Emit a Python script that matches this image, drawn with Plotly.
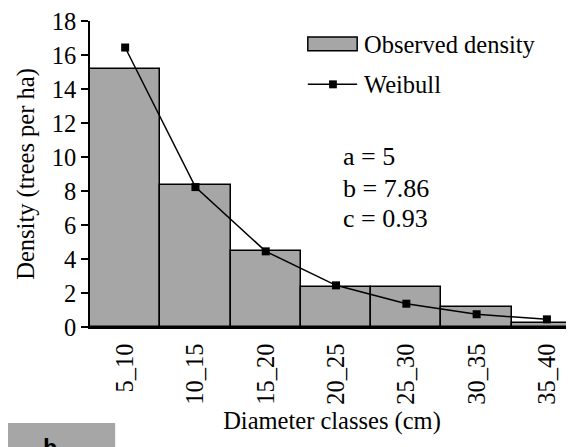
import plotly.graph_objects as go

categories = ["5_10", "10_15", "15_20", "20_25", "25_30", "30_35", "35_40"]
observed = [15.2, 8.33, 4.5, 2.35, 2.35, 1.2, 0.22]
weibull = [16.44, 8.23, 4.45, 2.45, 1.37, 0.75, 0.45]
params = ["a = 5", "b = 7.86", "c = 0.93"]
y_ticks = [0, 2, 4, 6, 8, 10, 12, 14, 16, 18]

FONT = "Liberation Serif"
FS = 24.5
GRAY = "#a6a6a6"

fig = go.Figure()
fig.add_trace(go.Bar(x=categories, y=observed, name="Observed density",
                     marker=dict(color=GRAY, line=dict(color="black", width=1.5)),
                     showlegend=False))
fig.add_trace(go.Scatter(x=categories, y=weibull, name="Weibull", mode="lines+markers",
                         line=dict(color="black", width=1.5),
                         marker=dict(symbol="square", size=8, color="black"),
                         showlegend=False))

# custom legend
fig.add_shape(type="rect", xref="paper", yref="paper", x0=0.450, x1=0.552, y0=0.903, y1=0.948,
              fillcolor=GRAY, line=dict(color="black", width=1.5))
fig.add_shape(type="line", xref="paper", yref="paper", x0=0.450, x1=0.552, y0=0.793, y1=0.793,
              line=dict(color="black", width=1.5))
fig.add_shape(type="rect", xref="paper", yref="paper", x0=0.494, x1=0.510, y0=0.780, y1=0.806,
              fillcolor="black", line=dict(color="black", width=0))
fig.add_annotation(text="Observed density", xref="paper", yref="paper", x=0.562, y=0.922,
                   xanchor="left", yanchor="middle", showarrow=False,
                   font=dict(family=FONT, size=FS, color="black"))
fig.add_annotation(text="Weibull", xref="paper", yref="paper", x=0.562, y=0.793,
                   xanchor="left", yanchor="middle", showarrow=False,
                   font=dict(family=FONT, size=FS, color="black"))

for txt, yp in zip(params, [0.557, 0.453, 0.356]):
    fig.add_annotation(text=txt, xref="paper", yref="paper", x=0.519, y=yp,
                       xanchor="left", yanchor="middle", showarrow=False,
                       font=dict(family=FONT, size=26, color="black"))

# panel label box (partially cut off, as in the reference)
fig.add_shape(type="rect", xref="paper", yref="paper", x0=-0.19, x1=0.052, y0=-0.45, y1=-0.314,
              fillcolor=GRAY, line=dict(width=0))
fig.add_annotation(text="<b>b</b>", xref="paper", yref="paper", x=-0.083, y=-0.350,
                   xanchor="center", yanchor="top", showarrow=False,
                   font=dict(family="Liberation Mono", size=24, color="black"))

fig.update_layout(
    width=566, height=439,
    margin=dict(l=82, r=0, t=10, b=120),
    paper_bgcolor="white", plot_bgcolor="white",
    bargap=0,
    font=dict(family=FONT, size=FS, color="black"),
    xaxis=dict(
        type="category", range=[-0.5, 6.385],
        showline=True, linecolor="black", linewidth=1.5,
        ticks="", tickangle=-90, ticklabelstandoff=5,
        tickfont=dict(family=FONT, size=FS),
        title=dict(text="Diameter classes (cm)", font=dict(family=FONT, size=FS), standoff=8),
        showgrid=False, zeroline=False,
    ),
    yaxis=dict(
        range=[0, 18], tickvals=y_ticks, ticklabeloverflow="allow",
        showline=True, linecolor="black", linewidth=1.5,
        ticks="outside", ticklen=7, tickwidth=1.5, tickcolor="black",
        tickfont=dict(family=FONT, size=FS),
        title=dict(text="Density (trees per ha)", font=dict(family=FONT, size=FS), standoff=10),
        showgrid=False, zeroline=False,
    ),
)

fig.write_html("out.html")
